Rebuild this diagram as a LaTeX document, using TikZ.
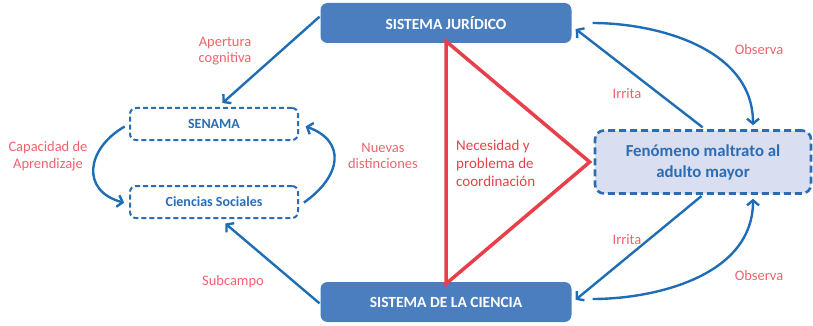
\documentclass[tikz,border=0pt]{standalone}
\usepackage{fontspec}
\setmainfont{Carlito}
\usepackage{tikz}
\usetikzlibrary{arrows.meta}
\definecolor{boxblue}{HTML}{4A7EBF}
\definecolor{lineblue}{HTML}{1E6DB5}
\definecolor{textblue}{HTML}{2B6CB3}
\definecolor{lilac}{HTML}{D9DFF0}
\definecolor{labelred}{HTML}{F0636D}
\definecolor{trired}{HTML}{E8404A}
\tikzstyle{every node}=[inner sep=0pt]
\tikzset{sistema/.style={fill=boxblue, rounded corners=7pt, minimum width=251pt,
      minimum height=40pt, text=white, font=\fontsize{15.5}{17}\selectfont\bfseries}}
\tikzset{campo/.style={draw=textblue, dashed, dash pattern=on 5pt off 3pt, line width=2pt,
      rounded corners=6pt, minimum width=168pt, minimum height=32pt, text=textblue,
      font=\fontsize{14}{16}\selectfont\bfseries}}
\tikzset{lbl/.style={text=labelred, align=center, font=\fontsize{14.5}{16.5}\selectfont}}
\tikzset{flecha/.style={draw=lineblue, line width=2.4pt, -{Straight Barb[length=5pt,width=12pt]}}}

\begin{document}
\begin{tikzpicture}[x=1pt, y=-1pt]
	\useasboundingbox (0,0) rectangle (813,326);
	\node[sistema] (juridico) at (446,23) {SISTEMA JURÍDICO};
	\node[sistema] (ciencia) at (446,302) {SISTEMA DE LA CIENCIA};
	\node[campo] (senama) at (214,124) {SENAMA};
	\node[campo] (sociales) at (214,202) {Ciencias Sociales};
	\node[draw=textblue, fill=lilac, dashed, dash pattern=on 7pt off 4pt, line width=2.6pt,
		rounded corners=9pt, minimum width=216pt, minimum height=63pt, text=textblue, align=center,
		font=\fontsize{16.8}{21}\selectfont\bfseries] (fenomeno) at (703,162)
		{Fenómeno maltrato al\\adulto mayor};
	% triangulo de coordinacion
	\draw[trired, line width=3.5pt, line join=miter] ([yshift=2pt]juridico.south)
		-- ([yshift=-2pt]ciencia.north) -- ([xshift=-4pt]fenomeno.west) -- cycle;
	\node[lbl, align=left, anchor=west, text=trired, font=\fontsize{15}{18}\selectfont] (necesidad)
		at (456,163) {Necesidad y\\problema de\\coordinación};
	% acoplamientos
	\draw[flecha, shorten <=1pt, shorten >=6pt] ([yshift=7pt]juridico.west) -- ([xshift=4pt]senama.north);
	\node[lbl] (apertura) at (225,51) {Apertura\\cognitiva};
	\draw[flecha, shorten <=5pt, shorten >=5pt] (senama.west) to[out=210, in=165, looseness=1.6] ([yshift=-2pt]sociales.west);
	\node[lbl] (capacidad) at (48,156) {Capacidad de\\Aprendizaje};
	\draw[flecha, shorten <=6pt, shorten >=7pt] ([yshift=-4pt]sociales.east) to[out=35, in=-20, looseness=1.6] (senama.east);
	\node[lbl] (nuevas) at (383,156) {Nuevas\\distinciones};
	\draw[flecha, shorten <=1pt, shorten >=7pt] ([yshift=-2pt]ciencia.west) -- ([xshift=6pt]sociales.south);
	\node[lbl] (subcampo) at (233,282) {Subcampo};
	\draw[flecha, shorten <=3pt, shorten >=5pt] ([xshift=2pt]fenomeno.north) -- ([yshift=-3pt]juridico.east);
	\node[lbl] (irrita1) at (627,94) {Irrita};
	\draw[flecha, shorten <=21pt, shorten >=4pt] (juridico.east) to[out=0, in=90] ([xshift=50pt]fenomeno.north);
	\node[lbl] (observa1) at (759,50) {Observa};
	\draw[flecha, shorten <=2pt, shorten >=5pt] (fenomeno.south) -- ([yshift=-1pt]ciencia.east);
	\node[lbl] (irrita2) at (627,240) {Irrita};
	\draw[flecha, shorten <=21pt, shorten >=4pt] ([yshift=3pt]ciencia.east) to[out=0, in=-90] ([xshift=50pt]fenomeno.south);
	\node[lbl] (observa2) at (759,276) {Observa};
\end{tikzpicture}
\end{document}
